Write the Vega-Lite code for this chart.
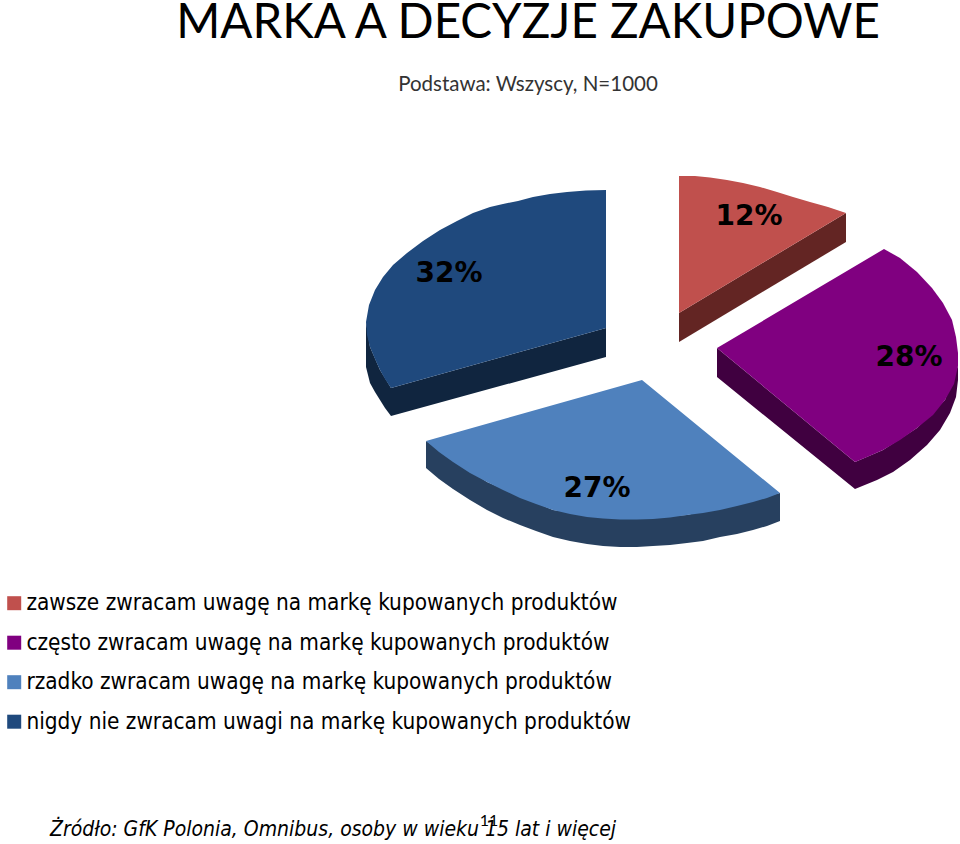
{
  "$schema": "https://vega.github.io/schema/vega-lite/v6.json",
  "width": 960,
  "height": 844,
  "padding": 0,
  "autosize": {"type": "none"},
  "background": "white",
  "view": {"stroke": null},
  "datasets": {
    "top": [
      {"answer": "zawsze zwracam uwagę na markę kupowanych produktów", "n": 1, "x": 679, "y": 176},
      {"answer": "zawsze zwracam uwagę na markę kupowanych produktów", "n": 2, "x": 695, "y": 176},
      {"answer": "zawsze zwracam uwagę na markę kupowanych produktów", "n": 3, "x": 710, "y": 177.5},
      {"answer": "zawsze zwracam uwagę na markę kupowanych produktów", "n": 4, "x": 727, "y": 180},
      {"answer": "zawsze zwracam uwagę na markę kupowanych produktów", "n": 5, "x": 743, "y": 183},
      {"answer": "zawsze zwracam uwagę na markę kupowanych produktów", "n": 6, "x": 760, "y": 187},
      {"answer": "zawsze zwracam uwagę na markę kupowanych produktów", "n": 7, "x": 777, "y": 192},
      {"answer": "zawsze zwracam uwagę na markę kupowanych produktów", "n": 8, "x": 793, "y": 197},
      {"answer": "zawsze zwracam uwagę na markę kupowanych produktów", "n": 9, "x": 810, "y": 202},
      {"answer": "zawsze zwracam uwagę na markę kupowanych produktów", "n": 10, "x": 828, "y": 207},
      {"answer": "zawsze zwracam uwagę na markę kupowanych produktów", "n": 11, "x": 846, "y": 213},
      {"answer": "zawsze zwracam uwagę na markę kupowanych produktów", "n": 12, "x": 679, "y": 313},
      {"answer": "często zwracam uwagę na markę kupowanych produktów", "n": 1, "x": 884, "y": 249},
      {"answer": "często zwracam uwagę na markę kupowanych produktów", "n": 2, "x": 900, "y": 258},
      {"answer": "często zwracam uwagę na markę kupowanych produktów", "n": 3, "x": 917, "y": 272},
      {"answer": "często zwracam uwagę na markę kupowanych produktów", "n": 4, "x": 932, "y": 288},
      {"answer": "często zwracam uwagę na markę kupowanych produktów", "n": 5, "x": 943, "y": 303},
      {"answer": "często zwracam uwagę na markę kupowanych produktów", "n": 6, "x": 952, "y": 320},
      {"answer": "często zwracam uwagę na markę kupowanych produktów", "n": 7, "x": 956, "y": 337},
      {"answer": "często zwracam uwagę na markę kupowanych produktów", "n": 8, "x": 958, "y": 353},
      {"answer": "często zwracam uwagę na markę kupowanych produktów", "n": 9, "x": 958, "y": 366},
      {"answer": "często zwracam uwagę na markę kupowanych produktów", "n": 10, "x": 954, "y": 384},
      {"answer": "często zwracam uwagę na markę kupowanych produktów", "n": 11, "x": 945, "y": 400},
      {"answer": "często zwracam uwagę na markę kupowanych produktów", "n": 12, "x": 933, "y": 415},
      {"answer": "często zwracam uwagę na markę kupowanych produktów", "n": 13, "x": 917, "y": 428},
      {"answer": "często zwracam uwagę na markę kupowanych produktów", "n": 14, "x": 900, "y": 440},
      {"answer": "często zwracam uwagę na markę kupowanych produktów", "n": 15, "x": 883, "y": 450},
      {"answer": "często zwracam uwagę na markę kupowanych produktów", "n": 16, "x": 867, "y": 457},
      {"answer": "często zwracam uwagę na markę kupowanych produktów", "n": 17, "x": 855, "y": 462},
      {"answer": "często zwracam uwagę na markę kupowanych produktów", "n": 18, "x": 717, "y": 348},
      {"answer": "rzadko zwracam uwagę na markę kupowanych produktów", "n": 1, "x": 642, "y": 380},
      {"answer": "rzadko zwracam uwagę na markę kupowanych produktów", "n": 2, "x": 426, "y": 441},
      {"answer": "rzadko zwracam uwagę na markę kupowanych produktów", "n": 3, "x": 439, "y": 452},
      {"answer": "rzadko zwracam uwagę na markę kupowanych produktów", "n": 4, "x": 453, "y": 462},
      {"answer": "rzadko zwracam uwagę na markę kupowanych produktów", "n": 5, "x": 470, "y": 473},
      {"answer": "rzadko zwracam uwagę na markę kupowanych produktów", "n": 6, "x": 487, "y": 482},
      {"answer": "rzadko zwracam uwagę na markę kupowanych produktów", "n": 7, "x": 503, "y": 490},
      {"answer": "rzadko zwracam uwagę na markę kupowanych produktów", "n": 8, "x": 520, "y": 498},
      {"answer": "rzadko zwracam uwagę na markę kupowanych produktów", "n": 9, "x": 536, "y": 504},
      {"answer": "rzadko zwracam uwagę na markę kupowanych produktów", "n": 10, "x": 553, "y": 510},
      {"answer": "rzadko zwracam uwagę na markę kupowanych produktów", "n": 11, "x": 570, "y": 514},
      {"answer": "rzadko zwracam uwagę na markę kupowanych produktów", "n": 12, "x": 587, "y": 517},
      {"answer": "rzadko zwracam uwagę na markę kupowanych produktów", "n": 13, "x": 603, "y": 518.5},
      {"answer": "rzadko zwracam uwagę na markę kupowanych produktów", "n": 14, "x": 620, "y": 519.5},
      {"answer": "rzadko zwracam uwagę na markę kupowanych produktów", "n": 15, "x": 637, "y": 519.5},
      {"answer": "rzadko zwracam uwagę na markę kupowanych produktów", "n": 16, "x": 653, "y": 519},
      {"answer": "rzadko zwracam uwagę na markę kupowanych produktów", "n": 17, "x": 670, "y": 517.5},
      {"answer": "rzadko zwracam uwagę na markę kupowanych produktów", "n": 18, "x": 687, "y": 515},
      {"answer": "rzadko zwracam uwagę na markę kupowanych produktów", "n": 19, "x": 703, "y": 513},
      {"answer": "rzadko zwracam uwagę na markę kupowanych produktów", "n": 20, "x": 720, "y": 510},
      {"answer": "rzadko zwracam uwagę na markę kupowanych produktów", "n": 21, "x": 737, "y": 506},
      {"answer": "rzadko zwracam uwagę na markę kupowanych produktów", "n": 22, "x": 753, "y": 502},
      {"answer": "rzadko zwracam uwagę na markę kupowanych produktów", "n": 23, "x": 767, "y": 498},
      {"answer": "rzadko zwracam uwagę na markę kupowanych produktów", "n": 24, "x": 780, "y": 493},
      {"answer": "nigdy nie zwracam uwagi na markę kupowanych produktów", "n": 1, "x": 606, "y": 190},
      {"answer": "nigdy nie zwracam uwagi na markę kupowanych produktów", "n": 2, "x": 586, "y": 190.5},
      {"answer": "nigdy nie zwracam uwagi na markę kupowanych produktów", "n": 3, "x": 567, "y": 192},
      {"answer": "nigdy nie zwracam uwagi na markę kupowanych produktów", "n": 4, "x": 550, "y": 194},
      {"answer": "nigdy nie zwracam uwagi na markę kupowanych produktów", "n": 5, "x": 533, "y": 197},
      {"answer": "nigdy nie zwracam uwagi na markę kupowanych produktów", "n": 6, "x": 518, "y": 201},
      {"answer": "nigdy nie zwracam uwagi na markę kupowanych produktów", "n": 7, "x": 503, "y": 204},
      {"answer": "nigdy nie zwracam uwagi na markę kupowanych produktów", "n": 8, "x": 490, "y": 207},
      {"answer": "nigdy nie zwracam uwagi na markę kupowanych produktów", "n": 9, "x": 473, "y": 213},
      {"answer": "nigdy nie zwracam uwagi na markę kupowanych produktów", "n": 10, "x": 457, "y": 221},
      {"answer": "nigdy nie zwracam uwagi na markę kupowanych produktów", "n": 11, "x": 440, "y": 230},
      {"answer": "nigdy nie zwracam uwagi na markę kupowanych produktów", "n": 12, "x": 423, "y": 241},
      {"answer": "nigdy nie zwracam uwagi na markę kupowanych produktów", "n": 13, "x": 407, "y": 253},
      {"answer": "nigdy nie zwracam uwagi na markę kupowanych produktów", "n": 14, "x": 393, "y": 265},
      {"answer": "nigdy nie zwracam uwagi na markę kupowanych produktów", "n": 15, "x": 383, "y": 277},
      {"answer": "nigdy nie zwracam uwagi na markę kupowanych produktów", "n": 16, "x": 375, "y": 290},
      {"answer": "nigdy nie zwracam uwagi na markę kupowanych produktów", "n": 17, "x": 369, "y": 305},
      {"answer": "nigdy nie zwracam uwagi na markę kupowanych produktów", "n": 18, "x": 366, "y": 322},
      {"answer": "nigdy nie zwracam uwagi na markę kupowanych produktów", "n": 19, "x": 367, "y": 335},
      {"answer": "nigdy nie zwracam uwagi na markę kupowanych produktów", "n": 20, "x": 370, "y": 347},
      {"answer": "nigdy nie zwracam uwagi na markę kupowanych produktów", "n": 21, "x": 375, "y": 359},
      {"answer": "nigdy nie zwracam uwagi na markę kupowanych produktów", "n": 22, "x": 380, "y": 370},
      {"answer": "nigdy nie zwracam uwagi na markę kupowanych produktów", "n": 23, "x": 385, "y": 379},
      {"answer": "nigdy nie zwracam uwagi na markę kupowanych produktów", "n": 24, "x": 391, "y": 388},
      {"answer": "nigdy nie zwracam uwagi na markę kupowanych produktów", "n": 25, "x": 606, "y": 328}
    ],
    "side": [
      {"part": "zawsze", "n": 1, "x": 679, "y": 313},
      {"part": "zawsze", "n": 2, "x": 846, "y": 213},
      {"part": "zawsze", "n": 3, "x": 846, "y": 242},
      {"part": "zawsze", "n": 4, "x": 679, "y": 342},
      {"part": "często", "n": 1, "x": 717, "y": 348},
      {"part": "często", "n": 2, "x": 855, "y": 462},
      {"part": "często", "n": 3, "x": 883, "y": 450},
      {"part": "często", "n": 4, "x": 917, "y": 428},
      {"part": "często", "n": 5, "x": 945, "y": 400},
      {"part": "często", "n": 6, "x": 958, "y": 366},
      {"part": "często", "n": 7, "x": 958, "y": 380},
      {"part": "często", "n": 8, "x": 956, "y": 397},
      {"part": "często", "n": 9, "x": 950, "y": 413},
      {"part": "często", "n": 10, "x": 940, "y": 430},
      {"part": "często", "n": 11, "x": 927, "y": 445},
      {"part": "często", "n": 12, "x": 910, "y": 460},
      {"part": "często", "n": 13, "x": 893, "y": 472},
      {"part": "często", "n": 14, "x": 877, "y": 480},
      {"part": "często", "n": 15, "x": 855, "y": 489},
      {"part": "często", "n": 16, "x": 717, "y": 377},
      {"part": "rzadko", "n": 1, "x": 426, "y": 441},
      {"part": "rzadko", "n": 2, "x": 487, "y": 482},
      {"part": "rzadko", "n": 3, "x": 553, "y": 510},
      {"part": "rzadko", "n": 4, "x": 620, "y": 519},
      {"part": "rzadko", "n": 5, "x": 687, "y": 515},
      {"part": "rzadko", "n": 6, "x": 780, "y": 493},
      {"part": "rzadko", "n": 7, "x": 780, "y": 521},
      {"part": "rzadko", "n": 8, "x": 767, "y": 526},
      {"part": "rzadko", "n": 9, "x": 753, "y": 530},
      {"part": "rzadko", "n": 10, "x": 737, "y": 534},
      {"part": "rzadko", "n": 11, "x": 720, "y": 537},
      {"part": "rzadko", "n": 12, "x": 703, "y": 541},
      {"part": "rzadko", "n": 13, "x": 687, "y": 543},
      {"part": "rzadko", "n": 14, "x": 670, "y": 545},
      {"part": "rzadko", "n": 15, "x": 653, "y": 546},
      {"part": "rzadko", "n": 16, "x": 637, "y": 547},
      {"part": "rzadko", "n": 17, "x": 620, "y": 547},
      {"part": "rzadko", "n": 18, "x": 603, "y": 546},
      {"part": "rzadko", "n": 19, "x": 587, "y": 544},
      {"part": "rzadko", "n": 20, "x": 570, "y": 541},
      {"part": "rzadko", "n": 21, "x": 553, "y": 537},
      {"part": "rzadko", "n": 22, "x": 536, "y": 531},
      {"part": "rzadko", "n": 23, "x": 520, "y": 525},
      {"part": "rzadko", "n": 24, "x": 503, "y": 518},
      {"part": "rzadko", "n": 25, "x": 487, "y": 510},
      {"part": "rzadko", "n": 26, "x": 470, "y": 500},
      {"part": "rzadko", "n": 27, "x": 453, "y": 489},
      {"part": "rzadko", "n": 28, "x": 439, "y": 479},
      {"part": "rzadko", "n": 29, "x": 426, "y": 468},
      {"part": "nigdy", "n": 1, "x": 606, "y": 328},
      {"part": "nigdy", "n": 2, "x": 391, "y": 388},
      {"part": "nigdy", "n": 3, "x": 380, "y": 370},
      {"part": "nigdy", "n": 4, "x": 370, "y": 347},
      {"part": "nigdy", "n": 5, "x": 366, "y": 322},
      {"part": "nigdy", "n": 6, "x": 366, "y": 367},
      {"part": "nigdy", "n": 7, "x": 368, "y": 375},
      {"part": "nigdy", "n": 8, "x": 370, "y": 383},
      {"part": "nigdy", "n": 9, "x": 375, "y": 392},
      {"part": "nigdy", "n": 10, "x": 380, "y": 400},
      {"part": "nigdy", "n": 11, "x": 385, "y": 408},
      {"part": "nigdy", "n": 12, "x": 391, "y": 416},
      {"part": "nigdy", "n": 13, "x": 606, "y": 357}
    ]
  },
  "layer": [
    {
      "data": {"name": "side"},
      "mark": {"type": "line", "filled": true, "strokeWidth": 0},
      "encoding": {
        "x": {"field": "x", "type": "quantitative", "scale": {"domain": [0, 960], "nice": false}, "axis": null},
        "y": {"field": "y", "type": "quantitative", "scale": {"domain": [844, 0], "nice": false}, "axis": null},
        "order": {"field": "n"},
        "color": {
          "field": "part",
          "type": "nominal",
          "scale": {"domain": ["zawsze", "często", "rzadko", "nigdy"], "range": ["#632523", "#400040", "#27405F", "#10253F"]},
          "legend": null
        }
      }
    },
    {
      "data": {"name": "top"},
      "mark": {"type": "line", "filled": true, "strokeWidth": 0},
      "encoding": {
        "x": {"field": "x", "type": "quantitative", "scale": {"domain": [0, 960], "nice": false}, "axis": null},
        "y": {"field": "y", "type": "quantitative", "scale": {"domain": [844, 0], "nice": false}, "axis": null},
        "order": {"field": "n"},
        "color": {
          "field": "answer",
          "type": "nominal",
          "scale": {
            "domain": [
              "zawsze zwracam uwagę na markę kupowanych produktów",
              "często zwracam uwagę na markę kupowanych produktów",
              "rzadko zwracam uwagę na markę kupowanych produktów",
              "nigdy nie zwracam uwagi na markę kupowanych produktów"
            ],
            "range": ["#C0504D", "#800080", "#4F81BD", "#1F497D"]
          },
          "legend": {
            "orient": "none",
            "legendX": 3,
            "legendY": 592,
            "title": null,
            "padding": 0,
            "symbolType": "square",
            "symbolSize": 196,
            "symbolStrokeWidth": 0,
            "labelFont": "DejaVu Sans Condensed",
            "labelFontSize": 22.4,
            "labelColor": "#000000",
            "labelLimit": 800,
            "labelOffset": 1,
            "rowPadding": 16.5
          }
        }
      }
    },
    {
      "data": {"values": [
        {"share": "12%", "x": 749, "y": 216.5},
        {"share": "28%", "x": 909, "y": 358},
        {"share": "27%", "x": 597, "y": 488.5},
        {"share": "32%", "x": 449, "y": 274}
      ]},
      "mark": {"type": "text", "font": "DejaVu Sans", "fontSize": 28, "fontWeight": "bold", "color": "#000000", "align": "center", "baseline": "middle"},
      "encoding": {
        "x": {"field": "x", "type": "quantitative", "scale": {"domain": [0, 960], "nice": false}, "axis": null},
        "y": {"field": "y", "type": "quantitative", "scale": {"domain": [844, 0], "nice": false}, "axis": null},
        "text": {"field": "share"}
      }
    },
    {
      "data": {"values": [{"label": "MARKA A DECYZJE ZAKUPOWE", "x": 528, "y": 24}]},
      "mark": {"type": "text", "font": "Lato", "fontSize": 47.5, "color": "#000000", "align": "center", "baseline": "middle"},
      "encoding": {
        "x": {"field": "x", "type": "quantitative", "scale": {"domain": [0, 960], "nice": false}, "axis": null},
        "y": {"field": "y", "type": "quantitative", "scale": {"domain": [844, 0], "nice": false}, "axis": null},
        "text": {"field": "label"}
      }
    },
    {
      "data": {"values": [{"label": "Podstawa: Wszyscy, N=1000", "x": 528, "y": 85}]},
      "mark": {"type": "text", "font": "Lato", "fontSize": 20.5, "color": "#333333", "align": "center", "baseline": "middle"},
      "encoding": {
        "x": {"field": "x", "type": "quantitative", "scale": {"domain": [0, 960], "nice": false}, "axis": null},
        "y": {"field": "y", "type": "quantitative", "scale": {"domain": [844, 0], "nice": false}, "axis": null},
        "text": {"field": "label"}
      }
    },
    {
      "data": {"values": [{"label": "Żródło: GfK Polonia, Omnibus, osoby w wieku 15 lat i więcej", "x": 50, "y": 830}]},
      "mark": {"type": "text", "font": "DejaVu Sans Condensed", "fontSize": 21, "fontStyle": "italic", "color": "#000000", "align": "left", "baseline": "middle"},
      "encoding": {
        "x": {"field": "x", "type": "quantitative", "scale": {"domain": [0, 960], "nice": false}, "axis": null},
        "y": {"field": "y", "type": "quantitative", "scale": {"domain": [844, 0], "nice": false}, "axis": null},
        "text": {"field": "label"}
      }
    },
    {
      "data": {"values": [{"label": "11", "x": 489, "y": 821}]},
      "mark": {"type": "text", "font": "Lato", "fontSize": 16, "color": "#000000", "align": "center", "baseline": "middle"},
      "encoding": {
        "x": {"field": "x", "type": "quantitative", "scale": {"domain": [0, 960], "nice": false}, "axis": null},
        "y": {"field": "y", "type": "quantitative", "scale": {"domain": [844, 0], "nice": false}, "axis": null},
        "text": {"field": "label"}
      }
    }
  ],
  "resolve": {"scale": {"color": "independent"}}
}
